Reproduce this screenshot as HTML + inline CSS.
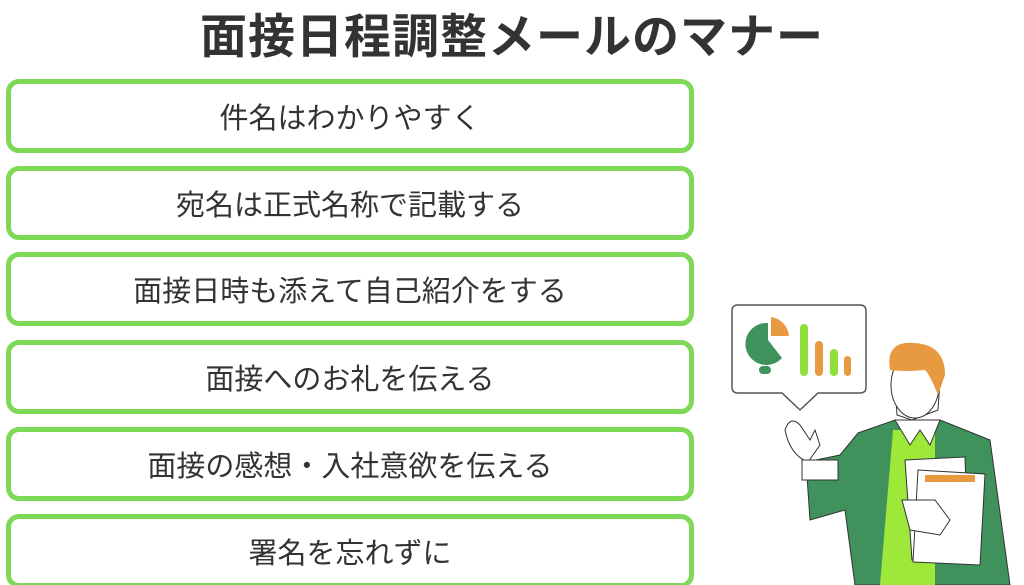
<!DOCTYPE html>
<html><head><meta charset="utf-8"><style>
html,body{margin:0;padding:0;background:#fff;width:1024px;height:585px;overflow:hidden;position:relative;font-family:"Liberation Sans","Noto Sans CJK JP",sans-serif;}
.t{position:absolute;left:0;width:1024px;top:-2px;text-align:center;font-size:47px;font-weight:bold;color:#333;letter-spacing:1px;}
.b{position:absolute;left:6px;width:678px;height:64px;border:5px solid #7ed957;border-radius:13px;display:flex;align-items:center;justify-content:center;font-size:29px;color:#333;}
</style></head><body>
<div class="t">面接日程調整メールのマナー</div>
<div class="b" style="top:79px">件名はわかりやすく</div>
<div class="b" style="top:166px">宛名は正式名称で記載する</div>
<div class="b" style="top:252px">面接日時も添えて自己紹介をする</div>
<div class="b" style="top:340px">面接へのお礼を伝える</div>
<div class="b" style="top:427px">面接の感想・入社意欲を伝える</div>
<div class="b" style="top:514px">署名を忘れずに</div>
<svg style="position:absolute;left:0;top:0" width="1024" height="585">
<path d="M738 305 H860 Q866 305 866 311 V387 Q866 393 860 393 H818 L800 410 L782 393 H738 Q732 393 732 387 V311 Q732 305 738 305Z" fill="#fff" stroke="#555" stroke-width="1.5"/>
<path d="M768 323 A21 21 0 1 0 782 358 L768 340Z" fill="#3f925c"/>
<rect x="759" y="366" width="12" height="8" rx="4" fill="#3f925c"/>
<path d="M771 317 A21 21 0 0 1 789 336 L771 336Z" fill="#e89a40"/>
<rect x="800" y="324" width="8" height="52" rx="4" fill="#8fe03c"/>
<rect x="815" y="341" width="8" height="35" rx="4" fill="#e89a40"/>
<rect x="830" y="349" width="8" height="27" rx="4" fill="#8fe03c"/>
<rect x="844" y="356" width="7" height="20" rx="3.5" fill="#e89a40"/>
<path d="M858 433 L895 420 L940 420 L990 440 L1010 585 L855 585 L845 510 L810 520 L806 462 L840 455Z" fill="#3f925c" stroke="#333" stroke-width="1"/>
<path d="M893 430 L935 430 L935 585 L880 585Z" fill="#9ee83a"/>
<path d="M895 420 L910 445 L920 430 L930 445 L940 420Z" fill="#fff" stroke="#333" stroke-width="1"/>
<path d="M895 380 L897 415 L912 420 L938 410 L940 380 Z" fill="#fff" stroke="#333" stroke-width="1"/>
<ellipse cx="915" cy="385" rx="24" ry="33" fill="#fff" stroke="#333" stroke-width="1"/>
<path d="M890 370 Q885 340 915 343 Q945 345 945 375 L938 395 Q930 375 925 370 Q905 372 890 370Z" fill="#e89a40"/>
<path d="M785 430 Q790 415 800 425 L810 440 L815 430 L820 445 L808 462 Q790 455 785 430Z" fill="#fff" stroke="#333" stroke-width="1"/>
<rect x="802" y="460" width="36" height="20" fill="#fff" stroke="#333" stroke-width="1"/>
<path d="M905 460 L965 457 L968 555 L912 560Z" fill="#fff" stroke="#333" stroke-width="1"/>
<path d="M918 470 L985 474 L980 565 L913 562Z" fill="#fff" stroke="#333" stroke-width="1"/>
<rect x="925" y="475" width="50" height="7" fill="#e89a40"/>
<path d="M902 500 L935 500 L950 520 L940 535 L910 530Z" fill="#fff" stroke="#333" stroke-width="1"/>
</svg>
</body></html>
